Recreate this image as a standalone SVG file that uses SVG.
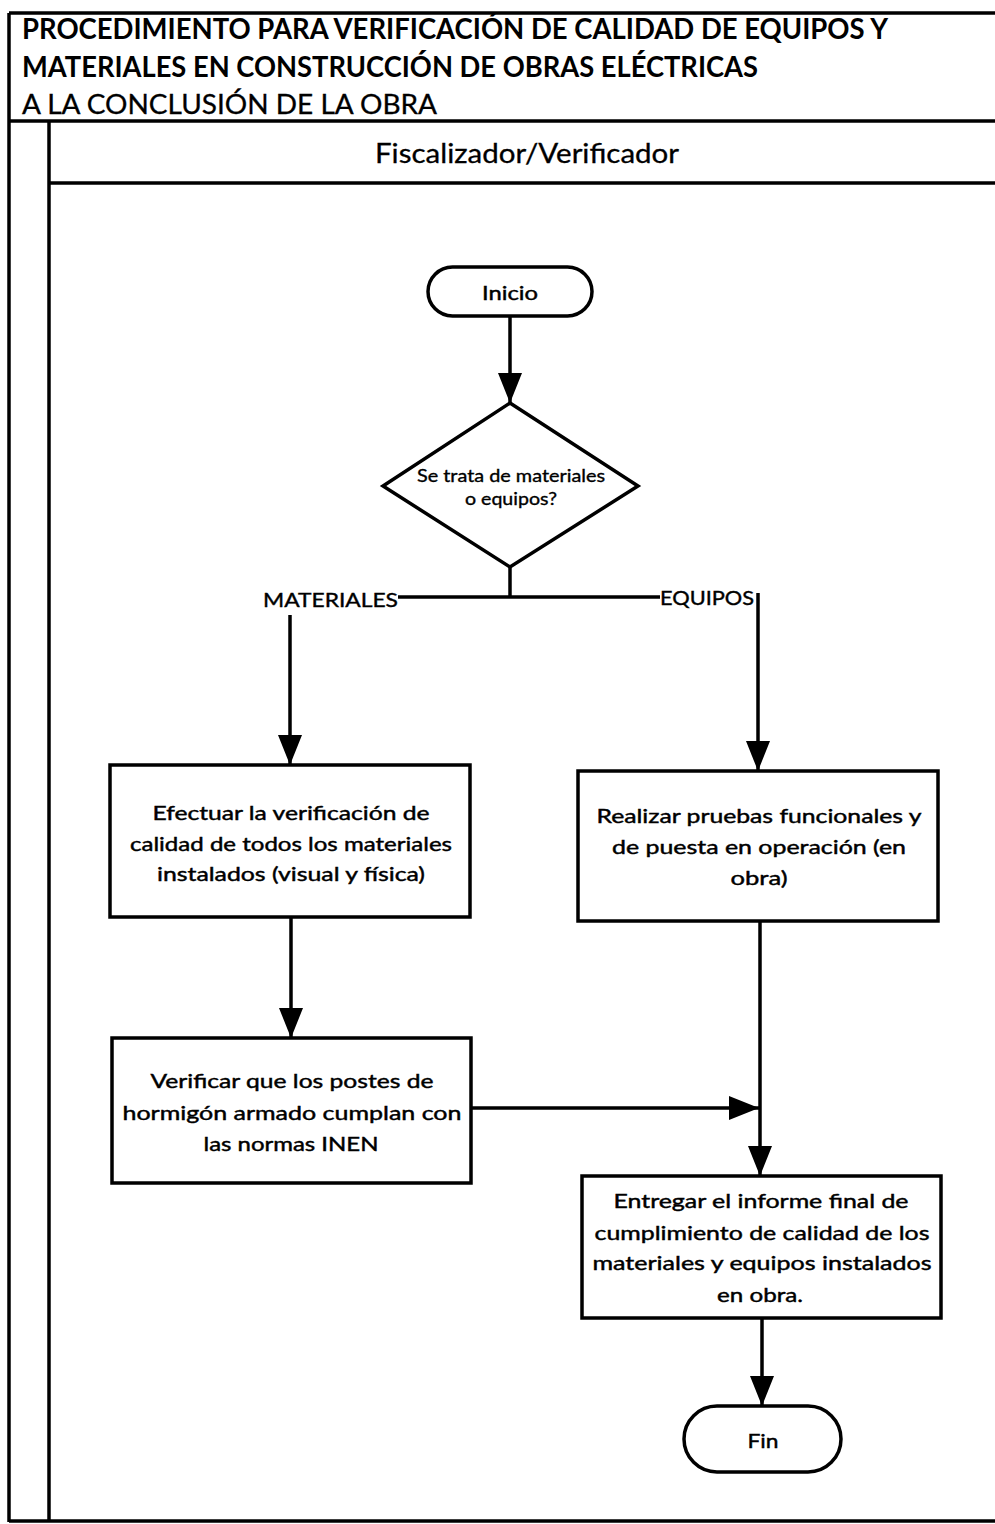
<svg xmlns="http://www.w3.org/2000/svg" width="995" height="1524" viewBox="0 0 995 1524">
  <style>
    .frame { fill: none; stroke: #000; stroke-width: 3.5; }
    .node { fill: #fff; stroke: #000; stroke-width: 3.5; }
    .conn { fill: none; stroke: #000; stroke-width: 3.5; }
    .t { font-family: Lato, "Open Sans", "Liberation Sans", sans-serif; fill: #000; stroke: #000; stroke-width: 0.45; font-size: 20px; text-anchor: middle; }
    .title { font-family: Lato, "Open Sans", "Liberation Sans", sans-serif; fill: #000; font-size: 28px; font-weight: bold; }
    .sub { font-family: Lato, "Open Sans", "Liberation Sans", sans-serif; fill: #000; stroke: #000; stroke-width: 0.3; font-size: 27px; }
    .lane { font-family: Lato, "Open Sans", "Liberation Sans", sans-serif; fill: #000; stroke: #000; stroke-width: 0.3; font-size: 26px; text-anchor: middle; }
    .lbl { font-family: Lato, "Open Sans", "Liberation Sans", sans-serif; fill: #000; stroke: #000; stroke-width: 0.4; font-size: 20px; }
    .small { font-family: Lato, "Open Sans", "Liberation Sans", sans-serif; fill: #000; stroke: #000; stroke-width: 0.35; font-size: 17px; text-anchor: middle; }
  </style>
  <defs>
    <marker id="ah" markerUnits="userSpaceOnUse" markerWidth="30" markerHeight="24" refX="30" refY="12" orient="auto">
      <path d="M0,0 L30,12 L0,24 z" fill="#000"/>
    </marker>
  </defs>
  <rect width="995" height="1524" fill="#fff"/>

  <g id="frame">
    <line class="frame" x1="9" y1="13" x2="995" y2="13"/>
    <line class="frame" x1="9" y1="13" x2="9" y2="1522"/>
    <line class="frame" x1="9" y1="121" x2="995" y2="121"/>
    <line class="frame" x1="49" y1="121" x2="49" y2="1522"/>
    <line class="frame" x1="49" y1="183" x2="995" y2="183"/>
    <line class="frame" x1="9" y1="1521" x2="995" y2="1521"/>
    <text class="title" x="22" y="39" textLength="866" lengthAdjust="spacingAndGlyphs">PROCEDIMIENTO PARA VERIFICACIÓN DE CALIDAD DE EQUIPOS Y</text>
    <text class="title" x="22" y="77" textLength="736" lengthAdjust="spacingAndGlyphs">MATERIALES EN CONSTRUCCIÓN DE OBRAS ELÉCTRICAS</text>
    <text class="sub" x="22" y="114" textLength="415" lengthAdjust="spacingAndGlyphs">A LA CONCLUSIÓN DE LA OBRA</text>
    <text class="lane" x="527" y="163" textLength="304" lengthAdjust="spacingAndGlyphs">Fiscalizador/Verificador</text>
  </g>

  <g id="connectors">
    <line class="conn" x1="510" y1="316" x2="510" y2="403" marker-end="url(#ah)"/>
    <line class="conn" x1="510" y1="567" x2="510" y2="597"/>
    <line class="conn" x1="398" y1="597" x2="660" y2="597"/>
    <line class="conn" x1="290" y1="615" x2="290" y2="765" marker-end="url(#ah)"/>
    <line class="conn" x1="758" y1="593" x2="758" y2="771" marker-end="url(#ah)"/>
    <line class="conn" x1="291" y1="918" x2="291" y2="1038" marker-end="url(#ah)"/>
    <line class="conn" x1="471" y1="1108" x2="759" y2="1108" marker-end="url(#ah)"/>
    <line class="conn" x1="760" y1="922" x2="760" y2="1176" marker-end="url(#ah)"/>
    <line class="conn" x1="762" y1="1318" x2="762" y2="1406" marker-end="url(#ah)"/>
    <text class="lbl" x="263" y="607" textLength="135" lengthAdjust="spacingAndGlyphs">MATERIALES</text>
    <text class="lbl" x="660" y="605" textLength="94" lengthAdjust="spacingAndGlyphs">EQUIPOS</text>
  </g>

  <g id="inicio">
    <rect class="node" x="428" y="267" width="164" height="49" rx="24.5"/>
    <text class="t" x="510" y="300" textLength="56" lengthAdjust="spacingAndGlyphs">Inicio</text>
  </g>

  <g id="decision">
    <polygon class="node" points="510,403 638,486 510,567 383,486"/>
    <text class="small" x="511" y="482" textLength="188" lengthAdjust="spacingAndGlyphs">Se trata de materiales</text>
    <text class="small" x="511" y="505" textLength="92" lengthAdjust="spacingAndGlyphs">o equipos?</text>
  </g>

  <g id="materiales">
    <rect class="node" x="110" y="765" width="360" height="152"/>
    <text class="t" x="291" y="820" textLength="277" lengthAdjust="spacingAndGlyphs">Efectuar la verificación de</text>
    <text class="t" x="291" y="851" textLength="322" lengthAdjust="spacingAndGlyphs">calidad de todos los materiales</text>
    <text class="t" x="291" y="881" textLength="268" lengthAdjust="spacingAndGlyphs">instalados (visual y física)</text>
  </g>

  <g id="equipos">
    <rect class="node" x="578" y="771" width="360" height="150"/>
    <text class="t" x="759" y="823" textLength="325" lengthAdjust="spacingAndGlyphs">Realizar pruebas funcionales y</text>
    <text class="t" x="759" y="854" textLength="294" lengthAdjust="spacingAndGlyphs">de puesta en operación (en</text>
    <text class="t" x="759" y="885" textLength="57" lengthAdjust="spacingAndGlyphs">obra)</text>
  </g>

  <g id="postes">
    <rect class="node" x="112" y="1038" width="359" height="145"/>
    <text class="t" x="292" y="1088" textLength="283" lengthAdjust="spacingAndGlyphs">Verificar que los postes de</text>
    <text class="t" x="292" y="1120" textLength="339" lengthAdjust="spacingAndGlyphs">hormigón armado cumplan con</text>
    <text class="t" x="291" y="1151" textLength="175" lengthAdjust="spacingAndGlyphs">las normas INEN</text>
  </g>

  <g id="informe">
    <rect class="node" x="582" y="1176" width="359" height="142"/>
    <text class="t" x="761" y="1208" textLength="295" lengthAdjust="spacingAndGlyphs">Entregar el informe final de</text>
    <text class="t" x="762" y="1240" textLength="335" lengthAdjust="spacingAndGlyphs">cumplimiento de calidad de los</text>
    <text class="t" x="762" y="1270" textLength="339" lengthAdjust="spacingAndGlyphs">materiales y equipos instalados</text>
    <text class="t" x="760" y="1302" textLength="86" lengthAdjust="spacingAndGlyphs">en obra.</text>
  </g>

  <g id="fin">
    <rect class="node" x="684" y="1406" width="157" height="66" rx="33"/>
    <text class="t" x="763" y="1448" textLength="31" lengthAdjust="spacingAndGlyphs">Fin</text>
  </g>
</svg>
